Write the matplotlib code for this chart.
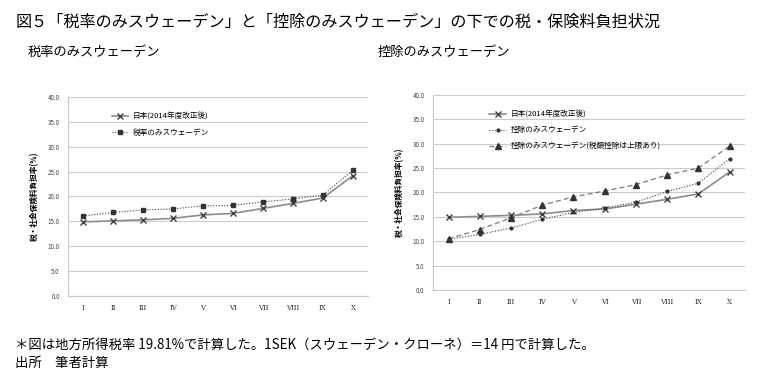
import numpy as np
import matplotlib.pyplot as plt

plt.rcParams['font.family'] = ['Noto Sans CJK JP', 'DejaVu Sans']

labels = ["I", "II", "III", "IV", "V", "VI", "VII", "VIII", "IX", "X"]
japan = [14.9, 15.1, 15.3, 15.6, 16.3, 16.6, 17.6, 18.6, 19.7, 24.2]
rate_only = [16.1, 16.8, 17.3, 17.5, 18.1, 18.2, 18.9, 19.5, 20.3, 25.3]
ded_only = [10.4, 11.4, 12.7, 14.5, 15.9, 16.8, 18.0, 20.2, 21.9, 26.9]
ded_cap = [10.5, 12.4, 14.8, 17.4, 19.1, 20.3, 21.6, 23.6, 25.0, 29.5]

x = np.arange(len(labels))

fig = plt.figure(figsize=(7.65, 3.8), dpi=100)
ax1 = fig.add_axes([0.089, 0.221, 0.392, 0.524])
ax2 = fig.add_axes([0.566, 0.237, 0.408, 0.513])


def style(ax):
    ax.set_ylim(0, 40)
    ax.set_xlim(-0.5, 9.5)
    ax.set_yticks(np.arange(0, 41, 5))
    ax.set_yticklabels(["%.1f" % v for v in np.arange(0, 41, 5)], fontsize=4.5, color="#444444")
    ax.set_xticks(x)
    ax.set_xticklabels(labels, fontsize=5, family="DejaVu Serif", color="#333333")
    ax.tick_params(length=0, pad=6)
    ax.grid(axis="y", color="#cccccc", lw=0.8)
    ax.set_axisbelow(True)
    for s in ["top", "right"]:
        ax.spines[s].set_visible(False)
    ax.spines["left"].set_color("#c8c8c8")
    ax.spines["bottom"].set_color("#c8c8c8")
    ax.set_ylabel("税・社会保険料負担率(%)", fontsize=5.5, fontweight="bold", labelpad=6)


style(ax1)
ax1.plot(x, japan, color="#8c8c8c", lw=1.2, marker="x", ms=4, mec="#404040", mew=1,
         label="日本(2014年度改正後)")
ax1.plot(x, rate_only, color="#404040", lw=0.8, ls=(0, (1, 1.5)), marker="s", ms=2.5,
         mfc="#333333", mec="#333333", label="税率のみスウェーデン")
ax1.legend(loc="upper left", bbox_to_anchor=(0.135, 0.935), frameon=False, fontsize=5.5,
           handlelength=2.2, handletextpad=0.6, labelspacing=1.0, borderaxespad=0)

style(ax2)
ax2.plot(x, japan, color="#8c8c8c", lw=1.2, marker="x", ms=4, mec="#404040", mew=1,
         label="日本(2014年度改正後)")
ax2.plot(x, ded_only, color="#404040", lw=0.8, ls=(0, (1, 1.5)), marker="o", ms=2,
         mfc="#333333", mec="#333333", label="控除のみスウェーデン")
ax2.plot(x, ded_cap, color="#7a7a7a", lw=0.9, ls=(0, (4, 2.5)), marker="^", ms=4,
         mfc="#333333", mec="#333333", label="控除のみスウェーデン(税額控除は上限あり)")
ax2.legend(loc="upper left", bbox_to_anchor=(0.17, 0.935), frameon=False, fontsize=5.5,
           handlelength=2.2, handletextpad=0.6, labelspacing=1.0, borderaxespad=0)

fig.text(0.02, 0.942, "図５「税率のみスウェーデン」と「控除のみスウェーデン」の下での税・保険料負担状況",
         fontsize=11.6, va="center")
fig.text(0.036, 0.863, "税率のみスウェーデン", fontsize=9.5, va="center")
fig.text(0.494, 0.863, "控除のみスウェーデン", fontsize=9.5, va="center")
fig.text(0.02, 0.092, "＊図は地方所得税率 19.81%で計算した。1SEK（スウェーデン・クローネ）＝14 円で計算した。",
         fontsize=9.6, va="center")
fig.text(0.02, 0.045, "出所　筆者計算", fontsize=9.6, va="center")

fig.savefig("out.png", dpi=100)
